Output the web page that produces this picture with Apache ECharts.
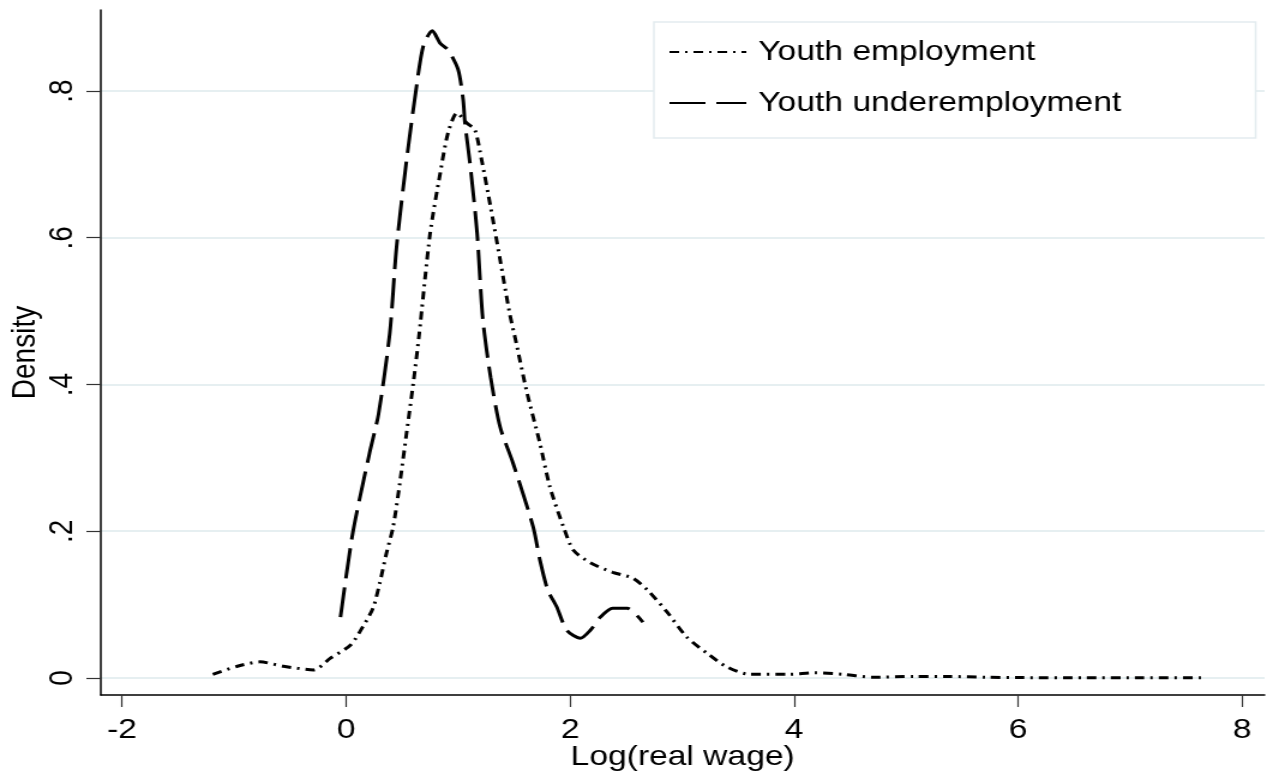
<!DOCTYPE html>
<html>
<head>
<meta charset="utf-8">
<script src="https://cdn.jsdelivr.net/npm/echarts@6/dist/echarts.min.js"></script>
<style>
html,body{margin:0;padding:0;background:#fff;overflow:hidden;}
#wrap{width:1267px;height:771px;overflow:hidden;}
#chart{width:1056px;height:771px;transform:scaleX(1.19981);transform-origin:0 0;}
</style>
</head>
<body>
<div id="wrap"><div id="chart"></div></div>
<script>
// Kernel density estimates: [log real wage, density]
const youthEmployment = [
  [-1.19,0.005],[-0.97,0.016],[-0.77,0.022],[-0.56,0.016],[-0.29,0.011],[-0.14,0.027],
  [0.04,0.045],[0.15,0.07],[0.24,0.095],[0.30,0.129],[0.36,0.17],[0.42,0.206],
  [0.48,0.266],[0.54,0.334],[0.60,0.402],[0.65,0.465],[0.75,0.606],[0.84,0.688],
  [0.91,0.743],[0.99,0.77],[1.08,0.756],[1.15,0.747],[1.21,0.706],[1.29,0.642],
  [1.375,0.57],[1.46,0.497],[1.52,0.456],[1.61,0.392],[1.73,0.32],[1.82,0.26],
  [1.94,0.206],[2.03,0.174],[2.18,0.157],[2.38,0.144],[2.56,0.136],[2.69,0.12],
  [2.87,0.089],[3.04,0.056],[3.22,0.034],[3.40,0.015],[3.60,0.005],[3.96,0.005],
  [4.18,0.007],[4.44,0.005],[4.69,0.001],[5.07,0.002],[5.39,0.002],[5.71,0.001],
  [6.03,0.0005],[6.6,0.0003],[7.1,0.0002],[7.64,0.0002]
];
const youthUnderemployment = [
  [-0.05,0.083],[0.06,0.198],[0.21,0.307],[0.29,0.36],[0.39,0.47],[0.45,0.587],
  [0.54,0.706],[0.62,0.797],[0.69,0.862],[0.77,0.882],[0.84,0.865],[0.91,0.856],
  [1.00,0.829],[1.045,0.788],[1.06,0.758],[1.11,0.696],[1.17,0.606],[1.22,0.49],
  [1.29,0.41],[1.375,0.342],[1.49,0.293],[1.67,0.206],[1.73,0.161],[1.80,0.12],
  [1.88,0.097],[1.97,0.065],[2.09,0.054],[2.18,0.065],[2.27,0.083],[2.38,0.095],
  [2.51,0.095],[2.65,0.076]
];
const xTicks = [-2, 0, 2, 4, 6, 8];
const yTicks = [0, 0.2, 0.4, 0.6, 0.8];
const seriesNames = ['Youth employment', 'Youth underemployment'];
const xTitle = 'Log(real wage)';
const yTitle = 'Density';

const FONT = '"Liberation Sans", Arial, Helvetica, sans-serif';
const chart = echarts.init(document.getElementById('chart'), null, {renderer: 'canvas'});
chart.setOption({
  animation: false,
  backgroundColor: '#fff',
  textStyle: {fontFamily: FONT, color: '#000'},
  grid: {left: 84, right: 2, top: 10, bottom: 76, containLabel: false, outerBoundsMode: 'none'},
  legend: {
    orient: 'vertical',
    left: 545, top: 22,
    data: seriesNames,
    itemWidth: 64, itemHeight: 20, itemGap: 23,
    padding: [16, 112, 21, 12],
    backgroundColor: '#fff',
    borderColor: '#e3ecef', borderWidth: 1.5,
    itemStyle: {color: 'rgba(0,0,0,0)', opacity: 0, borderWidth: 0},
    textStyle: {fontFamily: FONT, fontSize: 28, color: '#000', padding: [0, 0, 0, 5]}
  },
  xAxis: {
    type: 'value', min: -2.19, max: 8.2,
    name: xTitle, nameLocation: 'middle', nameGap: 48, nameMoveOverlap: false,
    nameTextStyle: {fontFamily: FONT, fontSize: 28, color: '#000'},
    axisLine: {show: true, onZero: false, lineStyle: {color: '#000', width: 1.5}},
    axisTick: {show: true, length: 12, customValues: xTicks, lineStyle: {color: '#333', width: 1.2}},
    axisLabel: {customValues: xTicks, fontFamily: FONT, fontSize: 28, color: '#000', margin: 21,
      formatter: v => String(v)},
    splitLine: {show: false}
  },
  yAxis: {
    type: 'value', min: -0.0232, max: 0.9104,
    name: yTitle, nameLocation: 'middle', nameGap: 49, nameMoveOverlap: false,
    nameTextStyle: {fontFamily: FONT, fontSize: 28, color: '#000'},
    axisLine: {show: true, onZero: false, lineStyle: {color: '#000', width: 1.5}},
    axisTick: {show: true, length: 12, customValues: yTicks, lineStyle: {color: '#333', width: 1.2}},
    axisLabel: {customValues: yTicks, rotate: 90, fontFamily: FONT, fontSize: 28, color: '#000', margin: 18,
      formatter: v => (v === 0 ? '0' : String(Math.round(v * 10) / 10).replace(/^0/, ''))},
    splitLine: {show: true, lineStyle: {color: '#e6eff1', width: 2}}
  },
  series: [
    {
      name: seriesNames[0], type: 'line', data: youthEmployment,
      symbol: 'none', smooth: 0.25, itemStyle: {color: '#000'},
      lineStyle: {color: '#000', width: 3, type: [8, 5, 2, 5]}
    },
    {
      name: seriesNames[1], type: 'line', data: youthUnderemployment,
      symbol: 'none', smooth: 0.25, itemStyle: {color: '#000'},
      lineStyle: {color: '#000', width: 3, type: [30, 9]}
    }
  ]
});
</script>
</body>
</html>
